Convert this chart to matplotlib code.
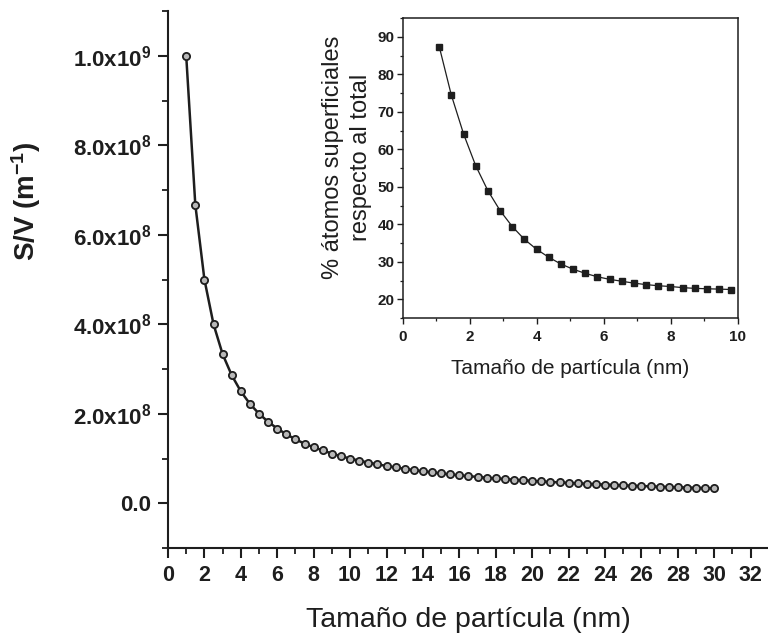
import matplotlib
matplotlib.use("Agg")
import matplotlib.pyplot as plt
from matplotlib.ticker import MultipleLocator, FixedLocator

plt.rcParams['font.family'] = ['Liberation Sans', 'DejaVu Sans']
plt.rcParams['mathtext.fontset'] = 'custom'
plt.rcParams['mathtext.rm'] = 'Liberation Sans:bold'
plt.rcParams['mathtext.bf'] = 'Liberation Sans:bold'
plt.rcParams['mathtext.it'] = 'Liberation Sans:bold'
plt.rcParams['mathtext.default'] = 'rm'

# ---- main data: S/V vs particle size ----
size_nm = [1.0, 1.5, 2.0, 2.5, 3.0, 3.5, 4.0, 4.5, 5.0, 5.5, 6.0, 6.5, 7.0, 7.5,
           8.0, 8.5, 9.0, 9.5, 10.0, 10.5, 11.0, 11.5, 12.0, 12.5, 13.0, 13.5,
           14.0, 14.5, 15.0, 15.5, 16.0, 16.5, 17.0, 17.5, 18.0, 18.5, 19.0,
           19.5, 20.0, 20.5, 21.0, 21.5, 22.0, 22.5, 23.0, 23.5, 24.0, 24.5,
           25.0, 25.5, 26.0, 26.5, 27.0, 27.5, 28.0, 28.5, 29.0, 29.5, 30.0]
s_over_v = [1.000e9, 6.67e8, 5.00e8, 4.00e8, 3.33e8, 2.86e8, 2.50e8, 2.22e8,
            2.00e8, 1.82e8, 1.67e8, 1.54e8, 1.43e8, 1.33e8, 1.25e8, 1.18e8,
            1.11e8, 1.05e8, 1.00e8, 9.52e7, 9.09e7, 8.70e7, 8.33e7, 8.00e7,
            7.69e7, 7.41e7, 7.14e7, 6.90e7, 6.67e7, 6.45e7, 6.25e7, 6.06e7,
            5.88e7, 5.71e7, 5.56e7, 5.41e7, 5.26e7, 5.13e7, 5.00e7, 4.88e7,
            4.76e7, 4.65e7, 4.55e7, 4.44e7, 4.35e7, 4.26e7, 4.17e7, 4.08e7,
            4.00e7, 3.92e7, 3.85e7, 3.77e7, 3.70e7, 3.64e7, 3.57e7, 3.51e7,
            3.45e7, 3.39e7, 3.33e7]
main_xticks = [0, 2, 4, 6, 8, 10, 12, 14, 16, 18, 20, 22, 24, 26, 28, 30, 32]
main_yticks = [0.0, 2.0e8, 4.0e8, 6.0e8, 8.0e8, 1.0e9]
main_yticklabels = ['0.0', '2.0x10$^{8}$', '4.0x10$^{8}$', '6.0x10$^{8}$',
                    '8.0x10$^{8}$', '1.0x10$^{9}$']

# ---- inset data: % surface atoms vs particle size ----
inset_size = [1.09, 1.45, 1.82, 2.18, 2.54, 2.91, 3.27, 3.63, 4.00, 4.36, 4.72,
              5.09, 5.45, 5.81, 6.18, 6.54, 6.90, 7.27, 7.63, 7.99, 8.36, 8.72,
              9.08, 9.45, 9.81]
surface_pct = [87.4, 74.5, 64.0, 55.6, 49.0, 43.6, 39.4, 36.0, 33.3, 31.2, 29.4,
               28.0, 26.9, 26.0, 25.3, 24.8, 24.3, 23.9, 23.6, 23.4, 23.1, 22.9,
               22.8, 22.7, 22.6]
inset_xticks = [0, 2, 4, 6, 8, 10]
inset_yticks = [20, 30, 40, 50, 60, 70, 80, 90]

W, H = 768, 639
fig = plt.figure(figsize=(W / 100, H / 100), dpi=100)
fig.patch.set_facecolor('white')

# main axes: left spine x=168, bottom y=548, top y=11
ax = fig.add_axes([168 / W, (H - 548) / H, 1.0 - 168 / W, (548 - 11) / H])
dark = '#1e1e1e'
ax.plot(size_nm, s_over_v, color=dark, lw=1.8, marker='o', ms=5.2,
        mfc='#b8b8b8', mec=dark, mew=1.3, zorder=3)
ax.set_xlim(0, 32.95)
ax.set_ylim(-1.0e8, 1.1e9)
ax.spines['top'].set_visible(False)
ax.spines['right'].set_visible(False)
for s in ('left', 'bottom'):
    ax.spines[s].set_linewidth(1.5)
    ax.spines[s].set_color(dark)
ax.xaxis.set_major_locator(FixedLocator(main_xticks))
ax.xaxis.set_minor_locator(MultipleLocator(1))
ax.yaxis.set_major_locator(FixedLocator(main_yticks))
ax.yaxis.set_minor_locator(MultipleLocator(1.0e8))
ax.set_yticklabels(main_yticklabels)
ax.set_xticklabels([str(t) for t in main_xticks])
ax.tick_params(which='major', direction='out', length=7, width=1.5, color=dark,
               labelcolor=dark)
ax.tick_params(which='minor', direction='out', length=4, width=1.3, color=dark)
ax.tick_params(axis='y', which='major', labelsize=16, pad=5)
ax.tick_params(axis='x', which='major', labelsize=15.5, pad=5)
for lab in ax.get_xticklabels() + ax.get_yticklabels():
    lab.set_fontweight('bold')

fig.text(26 / W, 1 - 201 / H, 'S/V (m$^{-1}$)', rotation=90, ha='center',
         va='center', fontsize=20, fontweight='bold', color=dark)
fig.text(468 / W, 1 - 620 / H, 'Tamaño de partícula (nm)', ha='center',
         va='center', fontsize=20.5, color=dark)

# inset axes
ins = fig.add_axes([402.7 / W, (H - 318) / H, (737.7 - 402.7) / W, (318 - 18) / H])
ins.plot(inset_size, surface_pct, color=dark, lw=0.9, marker='s', ms=3.8,
         mfc=dark, mec=dark, zorder=3)
ins.set_xlim(0, 10)
ins.set_ylim(15, 95)
for s in ins.spines.values():
    s.set_linewidth(1.1)
    s.set_color(dark)
ins.xaxis.set_major_locator(FixedLocator(inset_xticks))
ins.xaxis.set_minor_locator(MultipleLocator(1))
ins.yaxis.set_major_locator(FixedLocator(inset_yticks))
ins.yaxis.set_minor_locator(MultipleLocator(5))
ins.tick_params(which='major', direction='out', length=4.5, width=1.0, color=dark,
                labelsize=11, labelcolor=dark)
ins.tick_params(which='minor', direction='out', length=2.5, width=0.9, color=dark)
ins.tick_params(axis='y', pad=1.5)
ins.tick_params(axis='x', pad=4)
for lab in ins.get_xticklabels() + ins.get_yticklabels():
    lab.set_fontweight('bold')

fig.text(347 / W, 1 - 157 / H, '% átomos superficiales\nrespecto al total',
         rotation=90, ha='center', va='center', fontsize=17, color=dark,
         linespacing=1.3, multialignment='center')
fig.text(570 / W, 1 - 369 / H, 'Tamaño de partícula (nm)', ha='center',
         va='center', fontsize=15, color=dark)

fig.savefig('out.png', dpi=100, facecolor='white')
